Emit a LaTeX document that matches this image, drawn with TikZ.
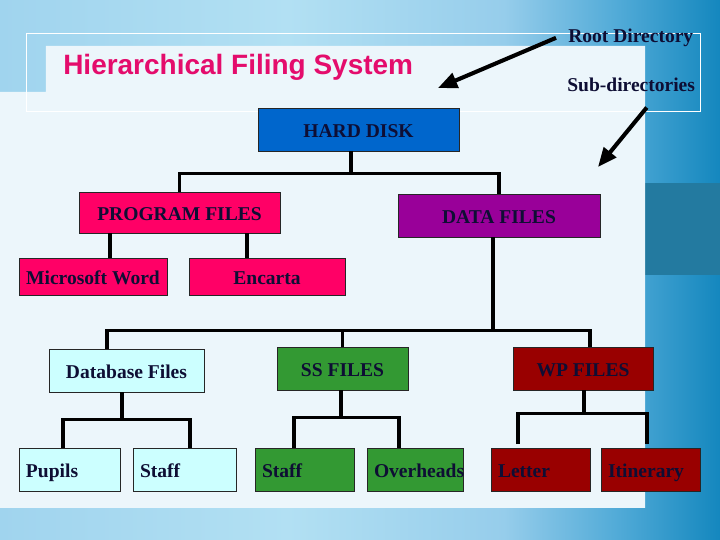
\documentclass[tikz,border=0pt]{standalone}
\usepackage{fontspec}
\setmainfont{Liberation Serif}
\newfontfamily\titlefont{Liberation Sans}
\usepackage{tikz}
\usetikzlibrary{arrows.meta}

\definecolor{bgleft}{RGB}{160,212,238}
\definecolor{bgmid}{RGB}{178,224,243}
\definecolor{bgmidb}{RGB}{150,205,235}
\definecolor{bgmidc}{RGB}{80,170,215}
\definecolor{bgright}{RGB}{20,135,190}
\definecolor{bgdark}{RGB}{35,122,160}
\definecolor{panel}{RGB}{236,246,251}
\definecolor{titlepink}{RGB}{228,12,108}
\definecolor{navytext}{RGB}{14,14,52}
\definecolor{hdblue}{RGB}{0,102,204}
\definecolor{progpink}{RGB}{255,0,102}
\definecolor{datapurple}{RGB}{153,0,153}
\definecolor{dbcyan}{RGB}{204,255,255}
\definecolor{ssgreen}{RGB}{51,153,51}
\definecolor{wpred}{RGB}{153,0,0}

\pgfdeclarehorizontalshading{slidebg}{100bp}{color(0bp)=(bgleft); color(25bp)=(bgleft);
  color(45bp)=(bgmid); color(60bp)=(bgmidb); color(68bp)=(bgmidc); color(75bp)=(bgright); color(100bp)=(bgright)}

\tikzset{
  box/.style={draw=black!85, line width=0.6pt, inner sep=0pt, minimum height=1.075cm,
    text height=11pt, text depth=0pt, text=navytext, font=\fontsize{13.9}{16}\selectfont\bfseries},
  leafbox/.style={box, inner xsep=1.75mm, text width=#1, align=left},
  link/.style={line width=2.6pt},
  bigarrow/.style={line width=2.9pt, -{Triangle[length=4.8mm,width=3.9mm]}},
  note/.style={anchor=base west, inner sep=0pt, text=navytext, font=\fontsize{13.9}{16}\selectfont\bfseries}
}

\begin{document}
\begin{tikzpicture}
	% slide background
	\useasboundingbox (0,0) rectangle (18,13.5);
	\shade[shading=slidebg] (0,0) rectangle (18,13.5);
	\fill[bgdark] (16.125,6.625) rectangle (18,8.925);
	\fill[panel] (0,11.2) -- (1.15,11.2) -- (1.15,12.35) -- (16.125,12.35) -- (16.125,0.8) -- (0,0.8) -- cycle;
	\draw[white, line width=0.6pt] (0.65,10.725) rectangle (17.5,12.675);

	% title and notes
	\node[anchor=base west, inner sep=0pt, text=titlepink, font=\titlefont\fontsize{19.9}{22}\selectfont\bfseries] (title) at (1.575,11.625) {Hierarchical Filing System};
	\node[note] (rootlbl) at (14.2,12.4375) {Root Directory};
	\node[note] (sublbl) at (14.175,11.2) {Sub-directories};
	\coordinate (roottip) at (10.95,11.3);
	\coordinate (subtip) at (14.95,9.325);
	\draw[bigarrow] ([xshift=-3mm]rootlbl.west) -- (roottip);
	\draw[bigarrow] ([xshift=3.9mm,yshift=-3.75mm]sublbl.south) -- (subtip);

	% directories
	\node[box, fill=hdblue, minimum width=5.025cm] (harddisk) at (8.9625,10.2625) {HARD DISK};
	\node[box, fill=progpink, minimum width=5.025cm, minimum height=1.025cm] (progfiles) at (4.4875,8.1875) {PROGRAM FILES};
	\node[box, fill=datapurple, minimum width=5.05cm] (datafiles) at (12.475,8.1125) {DATA FILES};
	\node[box, fill=progpink, minimum width=3.7cm, minimum height=0.925cm] (msword) at (2.325,6.5875) {Microsoft Word};
	\node[box, fill=progpink, minimum width=3.9cm, minimum height=0.925cm] (encarta) at (6.675,6.5875) {Encarta};
	\node[box, fill=dbcyan, minimum width=3.875cm] (dbfiles) at (3.1625,4.2375) {Database Files};
	\node[box, fill=ssgreen, minimum width=3.275cm] (ssfiles) at (8.5625,4.2875) {SS FILES};
	\node[box, fill=wpred, minimum width=3.5cm] (wpfiles) at (14.575,4.2875) {WP FILES};

	% files
	\node[leafbox=2.175cm, fill=dbcyan] (pupils) at (1.7375,1.7625) {Pupils};
	\node[leafbox=2.225cm, fill=dbcyan] (dbstaff) at (4.6125,1.7625) {Staff};
	\node[leafbox=2.125cm, fill=ssgreen] (ssstaff) at (7.6125,1.7625) {Staff};
	\node[leafbox=2.05cm, fill=ssgreen] (overheads) at (10.375,1.7625) {Overheads};
	\node[leafbox=2.125cm, fill=wpred] (letter) at (13.5125,1.75) {Letter};
	\node[leafbox=2.125cm, fill=wpred] (itinerary) at (16.2625,1.75) {Itinerary};

	% tree lines
	\coordinate (hdbus) at ([xshift=-1.9mm,yshift=-5.5mm]harddisk.south);
	\draw[link] ([xshift=-1.9mm]harddisk.south) -- (hdbus);
	\draw[link] (progfiles.north) |- (hdbus) -| (datafiles.north);
	\draw[link] ([xshift=4.25mm]msword.north) -- ([xshift=4.25mm]msword.north |- progfiles.south);
	\draw[link] ([xshift=-5mm]encarta.north) -- ([xshift=-5mm]encarta.north |- progfiles.south);

	\coordinate (databus) at ([xshift=-1.5mm,yshift=-23.25mm]datafiles.south);
	\draw[link] ([xshift=-1.5mm]datafiles.south) -- (databus);
	\draw[link] ([xshift=-4.9mm]dbfiles.north) |- (databus) -| ([xshift=1.75mm]wpfiles.north);
	\draw[link] (ssfiles.north) -- (ssfiles.north |- databus);

	\coordinate (dbbus) at ([xshift=-1.1mm,yshift=-6.75mm]dbfiles.south);
	\draw[link] ([xshift=-1.1mm]dbfiles.south) -- (dbbus);
	\draw[link] ([xshift=-1.6mm]pupils.north) |- (dbbus) -| ([xshift=1.4mm]dbstaff.north);

	\coordinate (ssbus) at ([xshift=-0.4mm,yshift=-6.75mm]ssfiles.south);
	\draw[link] ([xshift=-0.4mm]ssfiles.south) -- (ssbus);
	\draw[link] ([xshift=-2.6mm]ssstaff.north) |- (ssbus) -| ([xshift=-4mm]overheads.north);

	\coordinate (wpbus) at ([xshift=0.25mm,yshift=-5.75mm]wpfiles.south);
	\draw[link] ([xshift=0.25mm]wpfiles.south) -- (wpbus);
	\draw[link, shorten <=1mm, shorten >=1mm] ([xshift=-5.6mm]letter.north) |- (wpbus) -| ([xshift=-0.9mm]itinerary.north);
\end{tikzpicture}
\end{document}
